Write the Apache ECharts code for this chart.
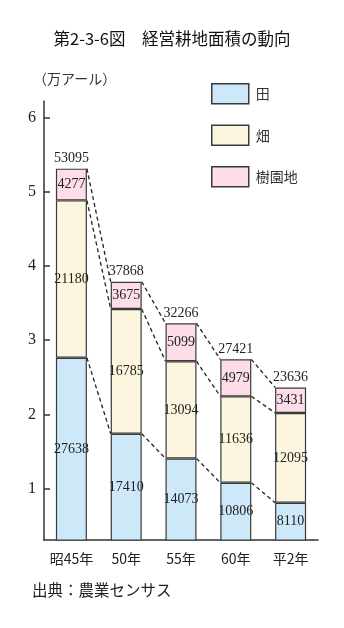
<!DOCTYPE html>
<html><head><meta charset="utf-8">
<script src="https://cdn.jsdelivr.net/npm/echarts@6/dist/echarts.min.js"></script>
<style>html,body{margin:0;padding:0;background:#fff}#c{width:344px;height:628px}</style>
</head><body><div id="c"></div>
<script>
const categories = ['昭45年', '50年', '55年', '60年', '平2年'];
const paddy = [27638, 17410, 14073, 10806, 8110];      // 田
const upland = [21180, 16785, 13094, 11636, 12095];    // 畑
const orchard = [4277, 3675, 5099, 4979, 3431];        // 樹園地
const totals = [53095, 37868, 32266, 27421, 23636];
const yTicks = [1, 2, 3, 4, 5, 6];
const seriesNames = ['田', '畑', '樹園地'];

const UNIT = 10000;
const BAR_W = 31;
const serif = '"Liberation Serif","DejaVu Serif",serif';
const jp = '"Noto Sans CJK JP","Noto Sans",sans-serif';

const cum1 = paddy.map(v => v / UNIT);
const cum2 = paddy.map((v, i) => (v + upland[i]) / UNIT);
const cum3 = paddy.map((v, i) => (v + upland[i] + orchard[i]) / UNIT);

const connectors = [];
[cum1, cum2, cum3].forEach(arr => {
  for (let i = 0; i < arr.length - 1; i++) connectors.push([i, arr[i], arr[i + 1]]);
});

const chart = echarts.init(document.getElementById('c'), null, {renderer: 'canvas'});
const segLabel = {show: true, position: 'inside', fontFamily: serif, fontSize: 14, color: '#222'};
const border = {borderColor: '#3a3a3a', borderWidth: 1.2};

chart.setOption({
  animation: false,
  title: {
    text: '第2-3-6図　経営耕地面積の動向',
    left: 'center', top: 25,
    textStyle: {fontFamily: jp, fontSize: 16.5, fontWeight: 'normal', color: '#111'}
  },
  graphic: [
    {type: 'text', left: 33, top: 72, style: {text: '（万アール）', font: '14px ' + jp, fill: '#333', letterSpacing: 1}},
    {type: 'text', left: 32, top: 582, style: {text: '出典：農業センサス', font: '15.5px ' + jp, fill: '#222', letterSpacing: 3}}
  ],
  legend: {
    orient: 'vertical', left: 211, top: 83, padding: 0,
    itemWidth: 37, itemHeight: 20, itemGap: 20,
    icon: 'rect',
    data: seriesNames,
    textStyle: {fontFamily: jp, fontSize: 14, color: '#333', padding: [0, 0, 0, 2]},
    itemStyle: {borderColor: '#3a3a3a', borderWidth: 1.5}
  },
  grid: {left: 44, right: 26, top: 101, bottom: 88},
  xAxis: {
    type: 'category', data: categories,
    axisLine: {lineStyle: {color: '#333', width: 1.5}},
    axisTick: {show: false},
    axisLabel: {interval: 0, fontFamily: jp, fontSize: 14, color: '#222', margin: 12}
  },
  yAxis: {
    type: 'value', min: 0.31, max: 6.22,
    splitLine: {show: false},
    axisLine: {show: true, lineStyle: {color: '#333', width: 1.5}},
    axisTick: {show: true, inside: true, length: 6, customValues: yTicks, lineStyle: {color: '#333', width: 1.5}},
    axisLabel: {customValues: yTicks, fontFamily: serif, fontSize: 16, color: '#222', margin: 8}
  },
  series: [
    {name: '田', type: 'bar', stack: 's', barWidth: BAR_W, data: paddy.map(v => v / UNIT),
     itemStyle: Object.assign({color: '#cde9f9'}, border),
     label: Object.assign({formatter: p => paddy[p.dataIndex]}, segLabel)},
    {name: '畑', type: 'bar', stack: 's', barWidth: BAR_W, data: upland.map(v => v / UNIT),
     itemStyle: Object.assign({color: '#fdf6de'}, border),
     label: Object.assign({formatter: p => upland[p.dataIndex]}, segLabel)},
    {name: '樹園地', type: 'bar', stack: 's', barWidth: BAR_W, data: orchard.map(v => v / UNIT),
     itemStyle: Object.assign({color: '#fddde8'}, border),
     label: Object.assign({formatter: p => orchard[p.dataIndex]}, segLabel)},
    {type: 'custom', name: 'conn', silent: true, z: 1,
     data: connectors, encode: {x: 0, y: [1, 2]},
     renderItem: (params, api) => {
       const i = api.value(0);
       const a = api.coord([i, api.value(1)]);
       const b = api.coord([i + 1, api.value(2)]);
       return {type: 'line',
         shape: {x1: a[0] + BAR_W / 2, y1: a[1], x2: b[0] - BAR_W / 2, y2: b[1]},
         style: {stroke: '#222', lineWidth: 1.3, lineDash: [4, 3]}};
     }},
    {type: 'custom', name: 'total', silent: true, z: 5,
     data: totals.map((t, i) => [i, cum3[i], t]), encode: {x: 0, y: 1},
     renderItem: (params, api) => {
       const p = api.coord([api.value(0), api.value(1)]);
       return {type: 'text', x: p[0], y: p[1] - 3,
         style: {text: String(api.value(2)), font: '14px ' + serif, fill: '#222',
                 align: 'center', verticalAlign: 'bottom'}};
     }}
  ]
});
</script></body></html>
